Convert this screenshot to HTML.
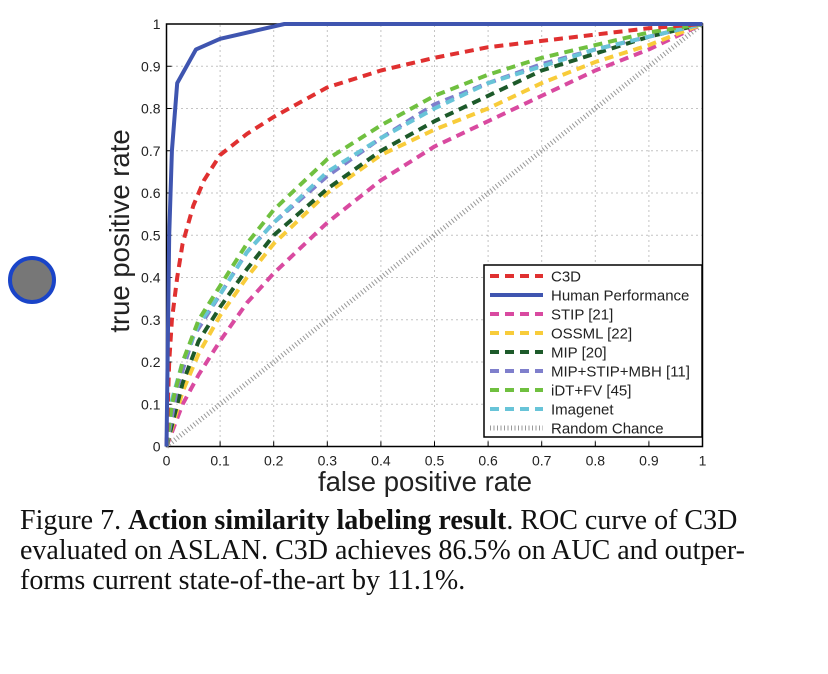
<!DOCTYPE html>
<html><head><meta charset="utf-8"><style>
body{margin:0;background:#fff;width:828px;height:674px;overflow:hidden;position:relative;font-family:"Liberation Sans",sans-serif}
.cap{position:absolute;left:20px;top:506px;font-family:"Liberation Serif",serif;font-size:28px;line-height:30px;color:#111;white-space:nowrap}
</style></head><body>
<div style="position:absolute;left:8px;top:256px;width:40px;height:40px;border-radius:50%;background:#777;border:4px solid #1a44c8;"></div>
<svg id="chart" width="828" height="500" style="position:absolute;left:0;top:0"></svg>
<div class="cap">Figure 7. <b>Action similarity labeling result</b>. ROC curve of C3D<br>evaluated on ASLAN. C3D achieves 86.5% on AUC and outper-<br>forms current state-of-the-art by 11.1%.</div>
<script>
const xTicks=[0,0.1,0.2,0.3,0.4,0.5,0.6,0.7,0.8,0.9,1];
const yTicks=[0,0.1,0.2,0.3,0.4,0.5,0.6,0.7,0.8,0.9,1];
const seriesNames=["C3D","Human Performance","STIP [21]","OSSML [22]","MIP [20]","MIP+STIP+MBH [11]","iDT+FV [45]","Imagenet","Random Chance"];
const seriesColors=["#e03030","#3f55b0","#d94aa0","#f8cc3a","#1d5a2a","#7f7fcc","#70c040","#68c4d8","#999"];
const c3dX=[0,0.005,0.01,0.02,0.03,0.05,0.07,0.1,0.15,0.2,0.3,0.4,0.5,0.6,0.7,0.8,0.9,1];
const c3dY=[0,0.2,0.3,0.4,0.48,0.57,0.63,0.69,0.74,0.78,0.85,0.89,0.92,0.945,0.96,0.975,0.99,1];
const humanX=[0,0.005,0.01,0.02,0.055,0.1,0.22,1];
const humanY=[0,0.5,0.7,0.86,0.94,0.965,1,1];
const stipX=[0,0.03,0.06,0.1,0.15,0.2,0.3,0.4,0.5,0.6,0.7,0.8,0.9,1];
const stipY=[0,0.1,0.17,0.25,0.34,0.41,0.53,0.63,0.71,0.77,0.83,0.89,0.94,1];
const ossmlX=[0,0.03,0.06,0.1,0.15,0.2,0.3,0.4,0.5,0.6,0.7,0.8,0.9,1];
const ossmlY=[0,0.13,0.22,0.31,0.4,0.48,0.6,0.69,0.75,0.8,0.86,0.91,0.95,1];
const mipX=[0,0.03,0.06,0.1,0.15,0.2,0.3,0.4,0.5,0.6,0.7,0.8,0.9,1];
const mipY=[0,0.15,0.25,0.33,0.42,0.5,0.61,0.7,0.77,0.83,0.89,0.93,0.97,1];
const mipStipX=[0,0.02,0.05,0.1,0.15,0.2,0.3,0.4,0.5,0.6,0.7,0.8,0.9,1];
const mipStipY=[0,0.14,0.26,0.36,0.46,0.53,0.64,0.73,0.81,0.86,0.905,0.94,0.97,1];
const idtX=[0,0.01,0.03,0.06,0.1,0.15,0.2,0.3,0.4,0.5,0.6,0.7,0.8,0.9,1];
const idtY=[0,0.1,0.2,0.3,0.38,0.48,0.56,0.68,0.76,0.83,0.88,0.92,0.95,0.98,1];
const imgX=[0,0.01,0.03,0.06,0.1,0.15,0.2,0.3,0.4,0.5,0.6,0.7,0.8,0.9,1];
const imgY=[0,0.11,0.2,0.29,0.36,0.46,0.53,0.65,0.73,0.8,0.86,0.9,0.94,0.97,1];
const randX=[0,1];
const randY=[0,1];
const NS="http://www.w3.org/2000/svg";
const svg=document.getElementById('chart');
const X0=166.5,X1=702.5,Y0=446.5,Y1=24;
const sx=v=>X0+v*(X1-X0), sy=v=>Y0-v*(Y0-Y1);
function mk(t,a){const e=document.createElementNS(NS,t);for(const k in a)e.setAttribute(k,a[k]);svg.appendChild(e);return e;}
xTicks.forEach((t,i)=>{if(i>0&&i<xTicks.length-1){const g=mk('line',{x1:sx(t),x2:sx(t),y1:Y0,y2:Y1,stroke:'#888','stroke-dasharray':'1 4','stroke-width':1});

}});
yTicks.forEach((t,i)=>{if(i>0&&i<yTicks.length-1){const g=mk('line',{x1:X0,x2:X1,y1:sy(t),y2:sy(t),stroke:'#888','stroke-dasharray':'1 4','stroke-width':1});

}});
const ax=mk('rect',{x:X0,y:Y1,width:X1-X0,height:Y0-Y1,fill:'none',stroke:'#000','stroke-width':1.5});


xTicks.forEach(t=>{const l=mk('text',{x:sx(t),y:Y0+19,'text-anchor':'middle','font-size':14,fill:'#222'});l.textContent=t;


mk('line',{x1:sx(t),x2:sx(t),y1:Y0,y2:Y0-5,stroke:'#000'});});
yTicks.forEach(t=>{const l=mk('text',{x:X0-6,y:sy(t)+5,'text-anchor':'end','font-size':14,fill:'#222'});l.textContent=t;


mk('line',{x1:X0,x2:X0+5,y1:sy(t),y2:sy(t),stroke:'#000'});});
const xl=mk('text',{x:425,y:491,'text-anchor':'middle','font-size':27.5,fill:'#222'});xl.textContent='false positive rate';


const yl=mk('text',{x:129,y:231,'text-anchor':'middle','font-size':27.5,fill:'#222',transform:'rotate(-90 129 231)'});yl.textContent='true positive rate';


const allX=[c3dX,humanX,stipX,ossmlX,mipX,mipStipX,idtX,imgX,randX];
const allY=[c3dY,humanY,stipY,ossmlY,mipY,mipStipY,idtY,imgY,randY];
function style(i){if(i===1)return {'stroke-width':4};if(i===8)return {'stroke-width':5,'stroke-dasharray':'1 2.5'};return {'stroke-width':4,'stroke-dasharray':'9 6'};}
const order=[8,2,3,4,5,7,6,0,1];
order.forEach(i=>{const d=allX[i].map((x,j)=>(j?'L':'M')+sx(x).toFixed(1)+' '+sy(allY[i][j]).toFixed(1)).join(' ');
const p=mk('path',Object.assign({d:d,fill:'none',stroke:seriesColors[i],'stroke-linejoin':'round'},style(i)));

});
const lg=mk('rect',{x:484,y:265,width:218,height:172,fill:'#fff',stroke:'#000','stroke-width':1.5});


seriesNames.forEach((n,i)=>{const y=276+i*19.0;
const l=mk('line',Object.assign({x1:490,x2:543,y1:y,y2:y,stroke:seriesColors[i]},style(i)));


const t=mk('text',{x:551,y:y+5.5,'font-size':15,fill:'#222'});t.textContent=n;

});
</script>
</body></html>
